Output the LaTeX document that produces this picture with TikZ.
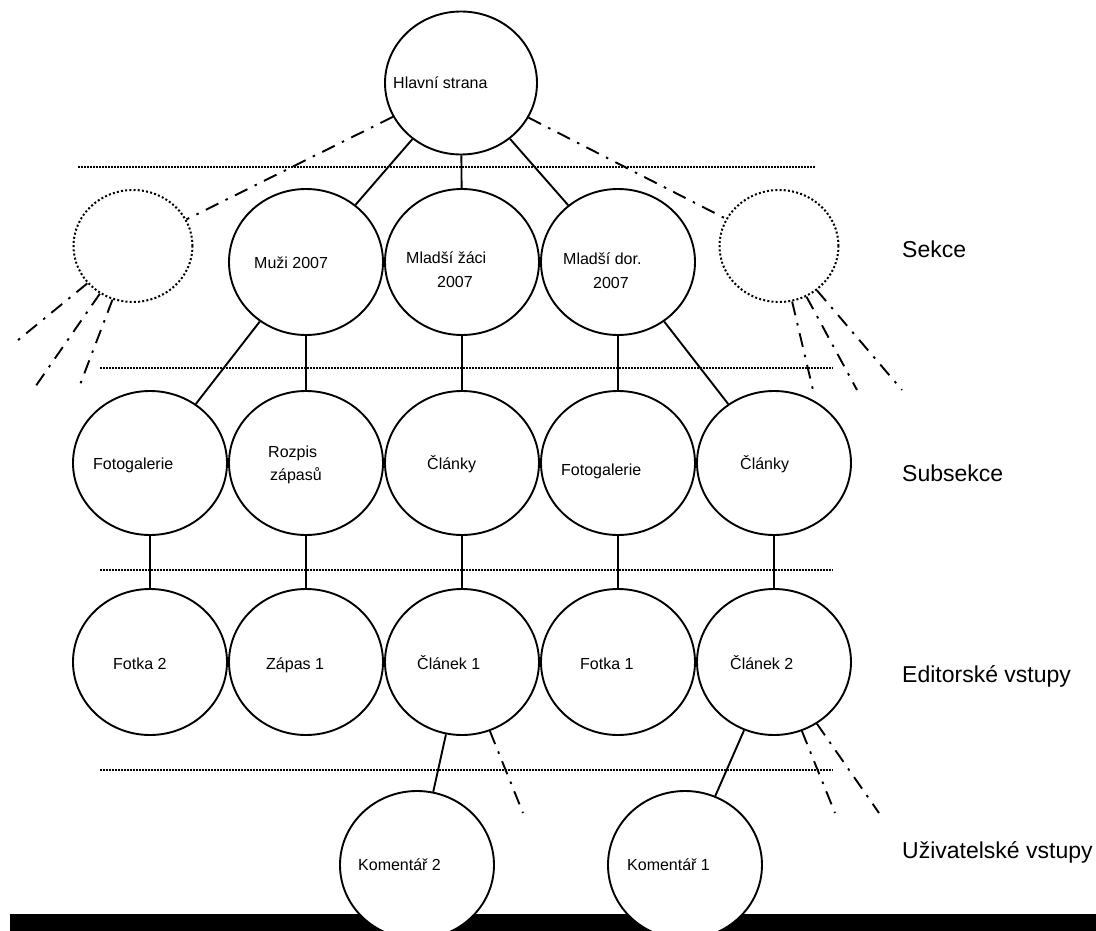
\documentclass[tikz,border=0pt]{standalone}
\usepackage{fontspec}
\setmainfont{Liberation Sans}
\usetikzlibrary{shapes.geometric}

\begin{document}
\begin{tikzpicture}[x=1pt, y=-1pt,
    bubble/.style={ellipse, draw, line width=1.9pt, inner sep=0pt, minimum width=154pt, minimum height=146pt},
    ghost/.style={ellipse, draw, line width=2pt, dash pattern=on 2pt off 2.2pt, inner sep=0pt, minimum width=119pt, minimum height=112pt},
    txt/.style={anchor=base west, inner sep=0pt, font=\fontsize{16}{19}\selectfont},
    lvl/.style={anchor=base west, inner sep=0pt, font=\fontsize{23}{27}\selectfont},
    link/.style={line width=1.9pt},
    moreline/.style={line width=1.9pt, dash pattern=on 14pt off 8pt on 2.5pt off 8pt},
    divider/.style={line width=1.5pt, dash pattern=on 1.5pt off 1.5pt}]
    \useasboundingbox (0,0) rectangle (1096,931);
    \fill (10,914) rectangle (1096,931);

    % dividers between the levels
    \draw[divider] (78,167) -- (815,167);
    \draw[divider] (100,368) -- (833,368);
    \draw[divider] (100,570) -- (833,570);
    \draw[divider] (100,770) -- (833,770);

    \node[bubble, minimum width=152pt, minimum height=143pt] (hlavni) at (461,83) {};
    \node[ghost] (sekL) at (133,246) {};
    \node[bubble] (muzi)   at (306,262) {};
    \node[bubble] (zaci)   at (462,262) {};
    \node[bubble] (dorost) at (618,262) {};
    \node[ghost] (sekR) at (779,246) {};

    \node[bubble, minimum height=144pt] (fotogalA) at (150,463) {};
    \node[bubble, minimum height=144pt] (rozpis)   at (306,463) {};
    \node[bubble, minimum height=144pt] (clankyA)  at (462,463) {};
    \node[bubble, minimum height=144pt] (fotogalB) at (618,463) {};
    \node[bubble, minimum height=144pt] (clankyB)  at (774,463) {};

    \node[bubble] (fotka2)  at (150,662) {};
    \node[bubble] (zapas1)  at (306,662) {};
    \node[bubble] (clanek1) at (462,662) {};
    \node[bubble] (fotka1)  at (618,662) {};
    \node[bubble] (clanek2) at (774,662) {};

    \node[bubble, fill=white, minimum height=148pt] (koment2) at (417,865) {};
    \node[bubble, fill=white, minimum height=148pt] (koment1) at (685,865) {};

    % texts
    \node[txt] (hlavniT)   at (393,89)  {Hlavní strana};
    \node[txt] (muziT)     at (254,268) {Muži 2007};
    \node[txt] (zaciT)     at (406,263) {Mladší žáci};
    \node[txt] (zaciT2)    at (437,287) {2007};
    \node[txt] (dorostT)   at (563,264) {Mladší dor.};
    \node[txt] (dorostT2)  at (593,288) {2007};
    \node[txt] (fotogalAT) at (93,469)  {Fotogalerie};
    \node[txt] (rozpisT)   at (268,457) {Rozpis};
    \node[txt] (rozpisT2)  at (270,480) {zápasů};
    \node[txt] (clankyAT)  at (427,469) {Články};
    \node[txt] (fotogalBT) at (561,475) {Fotogalerie};
    \node[txt] (clankyBT)  at (740,469) {Články};
    \node[txt] (fotka2T)   at (113,669) {Fotka 2};
    \node[txt] (zapas1T)   at (266,669) {Zápas 1};
    \node[txt] (clanek1T)  at (417,669) {Článek 1};
    \node[txt] (fotka1T)   at (580,669) {Fotka 1};
    \node[txt] (clanek2T)  at (730,669) {Článek 2};
    \node[txt] (koment2T)  at (358,870) {Komentář 2};
    \node[txt] (koment1T)  at (627,870) {Komentář 1};

    \node[lvl] (sekce)    at (902,257) {Sekce};
    \node[lvl] (subsekce) at (902,481) {Subsekce};
    \node[lvl] (editor)   at (902,682) {Editorské vstupy};
    \node[lvl] (uzivatel) at (902,858) {Uživatelské vstupy};

    % loose ends of the unfinished branches
    \coordinate (fanL1) at (12,345);
    \coordinate (fanL2) at (33,390);
    \coordinate (fanL3) at (78,390);
    \coordinate (fanR1) at (813,390);
    \coordinate (fanR2) at (857,390);
    \coordinate (fanR3) at (902,390);
    \coordinate (fanA)  at (523,813);
    \coordinate (fanB1) at (835,813);
    \coordinate (fanB2) at (879,813);

    \draw[link] (hlavni) -- (muzi);
    \draw[link] (hlavni) -- (zaci);
    \draw[link] (hlavni) -- (dorost);
    \draw[moreline] (hlavni) -- (sekL);
    \draw[moreline] (hlavni) -- (sekR);

    \draw[link] (muzi) -- (fotogalA);
    \draw[link] (muzi) -- (rozpis);
    \draw[link] (zaci) -- (clankyA);
    \draw[link] (dorost) -- (fotogalB);
    \draw[link] (dorost) -- (clankyB);

    \draw[link] (fotogalA) -- (fotka2);
    \draw[link] (rozpis) -- (zapas1);
    \draw[link] (clankyA) -- (clanek1);
    \draw[link] (fotogalB) -- (fotka1);
    \draw[link] (clankyB) -- (clanek2);

    \draw[link] (clanek1) -- (koment2);
    \draw[link] (clanek2) -- (koment1);

    \draw[moreline] (sekL) -- (fanL1);
    \draw[moreline] (sekL) -- (fanL2);
    \draw[moreline] (sekL) -- (fanL3);
    \draw[moreline] (sekR) -- (fanR1);
    \draw[moreline] (sekR) -- (fanR2);
    \draw[moreline] (sekR) -- (fanR3);
    \draw[moreline] (clanek1) -- (fanA);
    \draw[moreline] (clanek2) -- (fanB1);
    \draw[moreline] (clanek2) -- (fanB2);
\end{tikzpicture}
\end{document}
